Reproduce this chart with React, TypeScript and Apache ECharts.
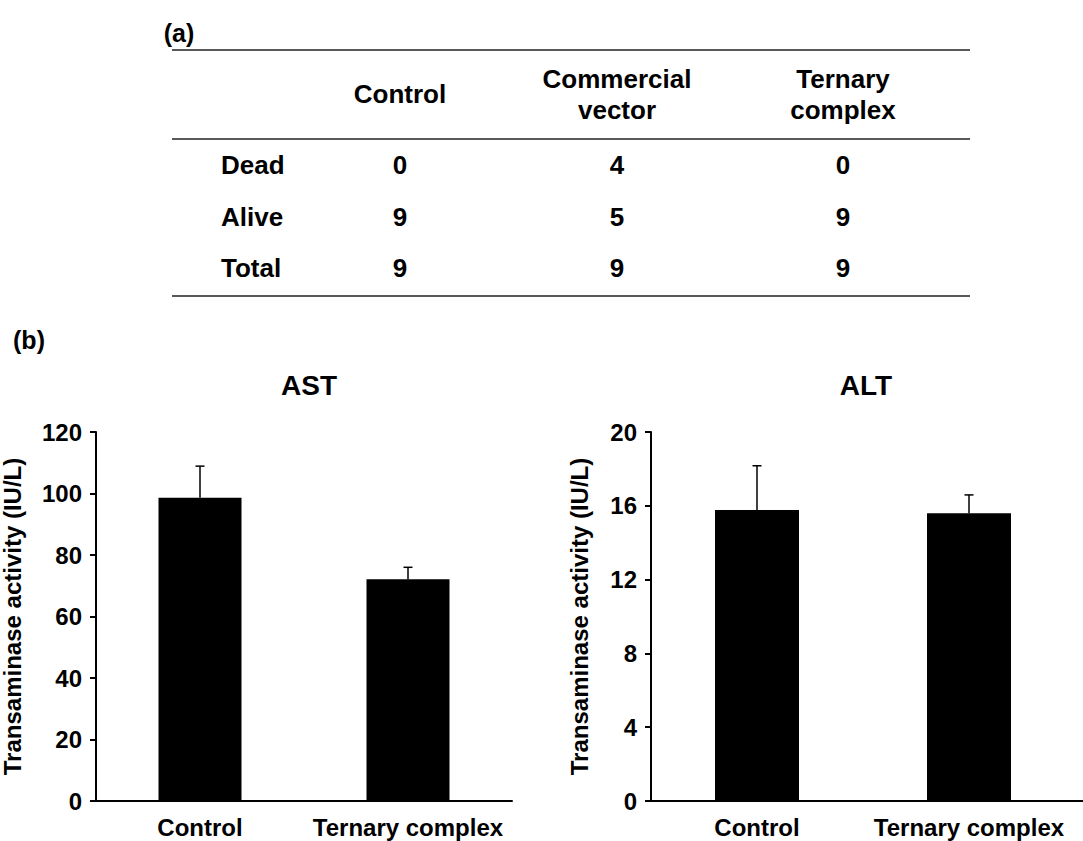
import React, { useEffect, useRef } from "react";
import * as echarts from "echarts";

const FONT = '"Liberation Sans", Arial, Helvetica, sans-serif';

// Table (a)
const tableColumns = ["Control", "Commercial\nvector", "Ternary\ncomplex"];
const tableRows = ["Dead", "Alive", "Total"];
const deadCounts = [0, 4, 0];
const aliveCounts = [9, 5, 9];
const totalCounts = [9, 9, 9];

// Charts (b)
const categories = ["Control", "Ternary complex"];
const astMean = [98.6, 72.1];
const astErr = [10.3, 3.9];
const altMean = [15.77, 15.59];
const altErr = [2.4, 1.0];
const astTicks = { min: 0, max: 120, interval: 20 };
const altTicks = { min: 0, max: 20, interval: 4 };

const yName = "Transaminase activity (IU/L)";

const boldText = (size: number) => ({
  color: "#000",
  fontSize: size,
  fontWeight: "bold" as const,
  fontFamily: FONT,
});

function errRender(params: any, api: any) {
  const idx = api.value(0);
  const m = api.value(1);
  const e = api.value(2);
  const p0 = api.coord([idx, m]);
  const p1 = api.coord([idx, m + e]);
  return {
    type: "group",
    children: [
      {
        type: "line",
        shape: { x1: p0[0], y1: p0[1], x2: p1[0], y2: p1[1] },
        style: { stroke: "#000", lineWidth: 1.5 },
      },
      {
        type: "line",
        shape: { x1: p1[0] - 4.5, y1: p1[1], x2: p1[0] + 4.5, y2: p1[1] },
        style: { stroke: "#000", lineWidth: 1.5 },
      },
    ],
  };
}

export default function App() {
  const ref = useRef<HTMLDivElement>(null);

  useEffect(() => {
    if (!ref.current) return;
    const chart = echarts.init(ref.current, undefined, { renderer: "svg" });

    const colX = [400, 617, 843];
    const rowY = [165, 217, 268];
    const rowValues = [deadCounts, aliveCounts, totalCounts];

    const graphics: any[] = [];
    // panel labels
    graphics.push({
      type: "text",
      x: 179,
      y: 33,
      style: { text: "(a)", fill: "#000", align: "center", verticalAlign: "middle", font: `bold 25px ${FONT}` },
    });
    graphics.push({
      type: "text",
      x: 29,
      y: 340,
      style: { text: "(b)", fill: "#000", align: "center", verticalAlign: "middle", font: `bold 25px ${FONT}` },
    });
    // table lines
    [50, 139, 296].forEach((y) =>
      graphics.push({
        type: "line",
        shape: { x1: 172, y1: y, x2: 970, y2: y },
        style: { stroke: "#222", lineWidth: 1.6 },
      })
    );
    // headers
    tableColumns.forEach((c, i) =>
      graphics.push({
        type: "text",
        x: colX[i],
        y: 94,
        style: {
          text: c,
          fill: "#000",
          align: "center",
          verticalAlign: "middle",
          font: `bold 26px ${FONT}`,
          lineHeight: 31,
        },
      })
    );
    // rows
    tableRows.forEach((r, ri) => {
      graphics.push({
        type: "text",
        x: 221,
        y: rowY[ri],
        style: { text: r, fill: "#000", align: "left", verticalAlign: "middle", font: `bold 26px ${FONT}` },
      });
      rowValues[ri].forEach((v, ci) =>
        graphics.push({
          type: "text",
          x: colX[ci],
          y: rowY[ri],
          style: { text: String(v), fill: "#000", align: "center", verticalAlign: "middle", font: `bold 26px ${FONT}` },
        })
      );
    });
    // chart titles
    graphics.push({
      type: "text",
      x: 309,
      y: 385,
      style: { text: "AST", fill: "#000", align: "center", verticalAlign: "middle", font: `bold 28px ${FONT}` },
    });
    graphics.push({
      type: "text",
      x: 866,
      y: 385,
      style: { text: "ALT", fill: "#000", align: "center", verticalAlign: "middle", font: `bold 28px ${FONT}` },
    });
    // x-axis extension of right panel to image edge
    graphics.push({
      type: "line",
      shape: { x1: 1074, y1: 801, x2: 1083, y2: 801 },
      style: { stroke: "#000", lineWidth: 2 },
    });

    const xAxisBase = (gridIndex: number) => ({
      type: "category" as const,
      gridIndex,
      data: categories,
      axisLine: { lineStyle: { color: "#000", width: 2 } },
      axisTick: { show: false },
      axisLabel: { ...boldText(24), margin: 13, interval: 0, lineHeight: 26 },
    });

    const yAxisBase = (gridIndex: number, t: any, nameGap: number) => ({
      type: "value" as const,
      gridIndex,
      min: t.min,
      max: t.max,
      interval: t.interval,
      name: yName,
      nameLocation: "middle" as const,
      nameGap,
      nameRotate: 90,
      nameTextStyle: boldText(24),
      axisLine: { show: true, lineStyle: { color: "#000", width: 2 } },
      axisTick: { show: true, length: 6, lineStyle: { color: "#000", width: 2 } },
      splitLine: { show: false },
      axisLabel: { ...boldText(24), margin: 14 },
    });

    chart.setOption({
      animation: false,
      backgroundColor: "#fff",
      grid: [
        { left: 96, top: 432, width: 416, height: 369, outerBoundsMode: "none", containLabel: false },
        { left: 651, top: 432, width: 424, height: 369, outerBoundsMode: "none", containLabel: false },
      ],
      xAxis: [xAxisBase(0), xAxisBase(1)],
      yAxis: [yAxisBase(0, astTicks, 72), yAxisBase(1, altTicks, 60)],
      graphic: graphics,
      series: [
        {
          type: "bar",
          xAxisIndex: 0,
          yAxisIndex: 0,
          data: astMean,
          barWidth: 83,
          itemStyle: { color: "#000" },
        },
        {
          type: "custom",
          xAxisIndex: 0,
          yAxisIndex: 0,
          renderItem: errRender,
          data: astMean.map((m, i) => [i, m, astErr[i]]),
          encode: { x: 0, y: 1 },
          z: 5,
        },
        {
          type: "bar",
          xAxisIndex: 1,
          yAxisIndex: 1,
          data: altMean,
          barWidth: 84,
          itemStyle: { color: "#000" },
        },
        {
          type: "custom",
          xAxisIndex: 1,
          yAxisIndex: 1,
          renderItem: errRender,
          data: altMean.map((m, i) => [i, m, altErr[i]]),
          encode: { x: 0, y: 1 },
          z: 5,
        },
      ],
    });

    return () => chart.dispose();
  }, []);

  return (
    <div
      ref={ref}
      style={{ position: "absolute", left: 0, top: 0, width: 1083, height: 841, background: "#fff" }}
    />
  );
}
